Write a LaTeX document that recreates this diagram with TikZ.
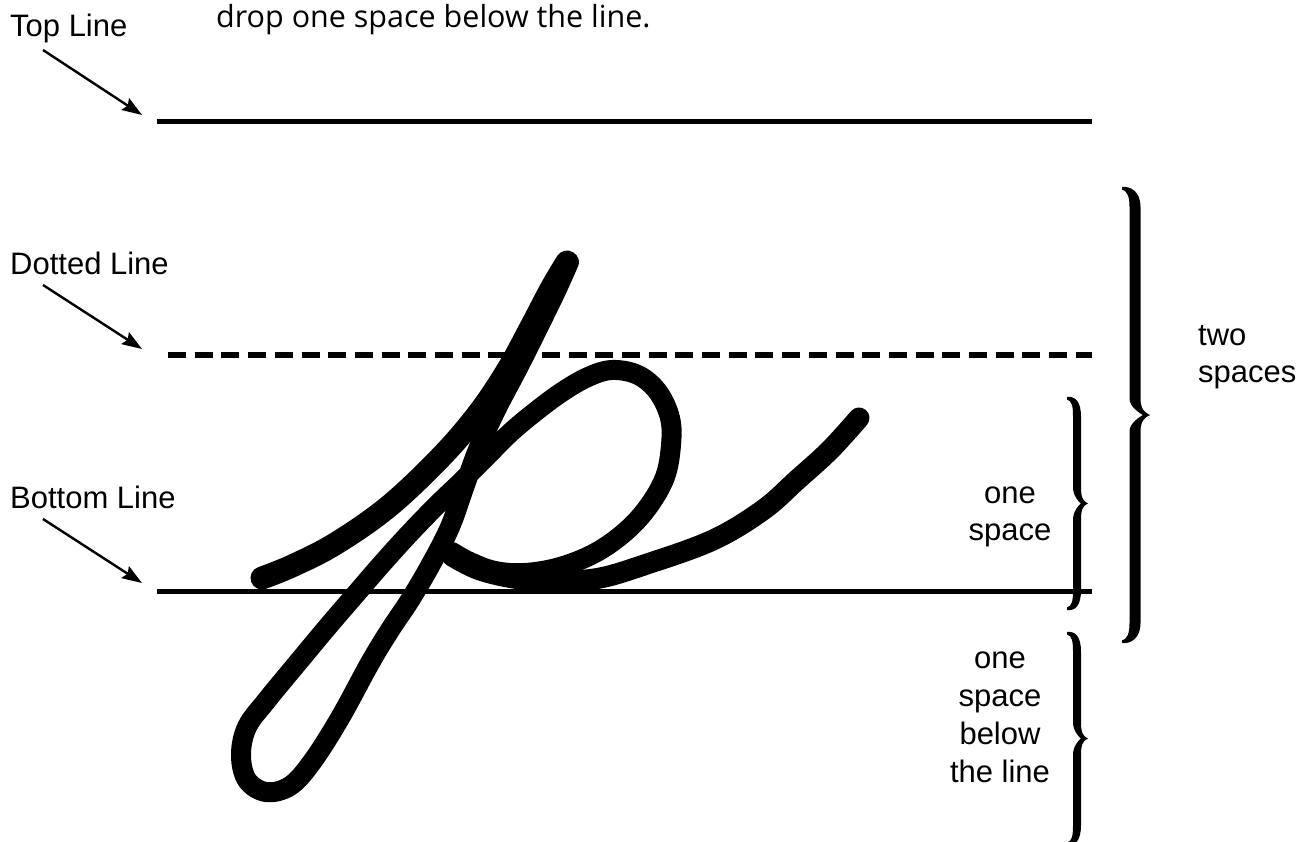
\documentclass[tikz,border=0pt]{standalone}
\usepackage{fontspec}
\setmainfont{Liberation Sans}
\newfontfamily\topfont{Open Sans}
\usetikzlibrary{arrows.meta}

\newcommand{\curlybrace}[6]{% #1 stem x, #2 top y, #3 bottom y, #4 half thickness, #5 tip offset, #6 hook
  \pgfmathsetmacro{\cbmid}{(#2+#3)/2}
  \fill ({#1-#6},{#2}) .. controls ({#1-#6+8},{#2-1}) and ({#1+#4},{#2+4}) .. ({#1+#4},{#2+20})
   -- ({#1+#4},{\cbmid-16})
   .. controls ({#1+#4},{\cbmid-6}) and ({#1+#5-5},{\cbmid-2}) .. ({#1+#5},{\cbmid})
   .. controls ({#1+#5-5},{\cbmid+2}) and ({#1+#4},{\cbmid+6}) .. ({#1+#4},{\cbmid+16})
   -- ({#1+#4},{#3-20})
   .. controls ({#1+#4},{#3-4}) and ({#1-#6+8},{#3+1}) .. ({#1-#6},{#3})
   -- ({#1-#6},{#3-2.5})
   .. controls ({#1-#6+5},{#3-4}) and ({#1-#4},{#3-9}) .. ({#1-#4},{#3-20})
   -- ({#1-#4},{\cbmid+16})
   .. controls ({#1-#4},{\cbmid+8}) and ({#1+#5-9},{\cbmid+1}) .. ({#1+#5-7},{\cbmid})
   .. controls ({#1+#5-9},{\cbmid-1}) and ({#1-#4},{\cbmid-8}) .. ({#1-#4},{\cbmid-16})
   -- ({#1-#4},{#2+20})
   .. controls ({#1-#4},{#2+9}) and ({#1-#6+5},{#2+4}) .. ({#1-#6},{#2+2.5}) -- cycle;
}

\tikzset{
  guide/.style={line width=5pt},
  guidedash/.style={line width=5.5pt, dash pattern=on 18pt off 8.7pt},
  pointer/.style={line width=2.4pt, -{Stealth[length=20pt,width=14pt,inset=3pt]}},
  lbl/.style={font=\fontsize{31}{37}\selectfont, inner sep=0pt, anchor=base west},
  pen/.style={line width=20pt, line cap=round, line join=round},
}

\begin{document}
\begin{tikzpicture}[x=1pt,y=-1pt]
\useasboundingbox (0,0) rectangle (1313,842);

% title text
\node[font=\topfont\fontsize{30.5}{36}\selectfont, inner sep=0pt, anchor=base west] (title) at (216,28) {drop one space below the line.};

% labels
\node[lbl] (toplbl) at (10,37) {Top Line};
\node[lbl] (dotlbl) at (10,274) {Dotted Line};
\node[lbl] (botlbl) at (10,508) {Bottom Line};

% guide lines
\coordinate (tlA) at (157,122); \coordinate (tlB) at (1092,122);
\coordinate (dlA) at (168,355); \coordinate (dlB) at (1092,355);
\coordinate (blA) at (157,591); \coordinate (blB) at (1092,591);
\draw[guide] (tlA) -- (tlB);
\draw[guidedash] (dlA) -- (dlB);
\draw[guide] (blA) -- (blB);

% pointers
\coordinate (p1a) at (43,50);  \coordinate (p1b) at (142,115);
\coordinate (p2a) at (43,285); \coordinate (p2b) at (142,349);
\coordinate (p3a) at (43,519); \coordinate (p3b) at (142,583);
\draw[pointer] (p1a) -- (p1b);
\draw[pointer] (p2a) -- (p2b);
\draw[pointer] (p3a) -- (p3b);

% cursive letter
\draw[pen, line width=23pt] plot[smooth, tension=0.6] coordinates {(262,578) (292,566) (335,544) (388,507) (440,458) (478,414) (507,371) (530,329) (551,289) (567,262)};
\draw[pen] plot[smooth, tension=0.6] coordinates {(569,262) (557,289) (540,324) (518,368) (497,408) (479,447) (465,485) (450,527) (430,566) (410,600) (390,630) (370,663) (340,718) (312,762) (290,786) (266,792) (247,780) (241,755) (247,727) (267,700) (300,660) (330,624) (355,595) (380,566) (408,535) (436,506) (462,481) (486,457) (510,433) (535,412) (562,392) (588,377) (612,370) (638,375) (658,392) (670,418) (671,445) (665,477) (648,507) (625,532) (595,553) (560,567) (525,573) (495,571) (470,562) (452,552)};
\draw[pen, line width=21pt] plot[smooth, tension=0.6] coordinates {(452,556) (480,570) (520,579) (560,581) (600,578) (647,564) (713,540) (763,510) (797,480) (830,450) (859,418)};

% braces
\curlybrace{1135}{187}{643}{5.5}{15}{13}
\curlybrace{1077}{397}{610}{4}{11}{10}
\curlybrace{1077}{632}{845}{4}{11}{10}

% brace labels
\node[lbl] (twosp) at (1198,345) {\begin{tabular}[t]{@{}l@{}}two\\spaces\end{tabular}};
\node[lbl, anchor=base] (onesp) at (1010,503) {\begin{tabular}[t]{@{}c@{}}one\\space\end{tabular}};
\node[lbl, font=\fontsize{31}{38}\selectfont, anchor=base] (belowsp) at (1000,668) {\begin{tabular}[t]{@{}c@{}}one\\space\\below\\the line\end{tabular}};
\end{tikzpicture}
\end{document}
